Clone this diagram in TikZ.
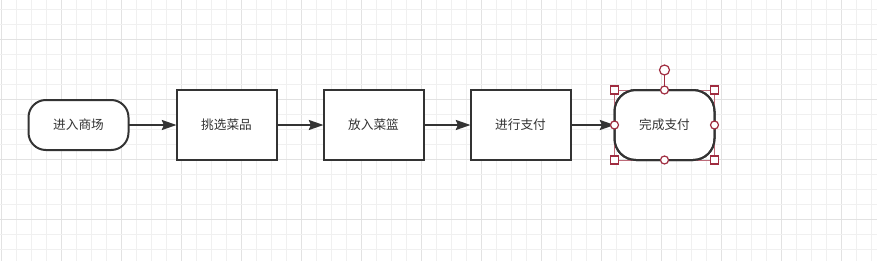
\documentclass[tikz,border=0pt]{standalone}
\usepackage{fontspec}
\setmainfont{Noto Sans CJK SC}
\usepackage{tikz}
\usetikzlibrary{arrows.meta,positioning}
\definecolor{flowInk}{HTML}{333333}
\definecolor{gridMinor}{HTML}{F0F0F0}
\definecolor{gridMajor}{HTML}{E2E2E2}
\definecolor{selRed}{HTML}{A02C40}
\tikzset{
  termnode/.style={draw=flowInk, fill=white, line width=1.5pt,
        rounded corners=13pt, minimum width=75pt, minimum height=37.5pt,
        outer sep=0pt, align=center,
        font=\fontsize{9.5pt}{11pt}\selectfont, text=flowInk},
  stepbox/.style={draw=flowInk, fill=white, line width=1.5pt,
        minimum width=75pt, minimum height=52.5pt, outer sep=0pt,
        align=center, font=\fontsize{9.5pt}{11pt}\selectfont, text=flowInk},
  flow/.style={-{Stealth[length=11pt, width=7.5pt, inset=1.5pt]},
        line width=1.5pt, draw=flowInk},
  gridminor/.style={draw=gridMinor, line width=0.75pt},
  gridmajor/.style={draw=gridMajor, line width=0.75pt},
  selframe/.style={draw=selRed!70, line width=0.6pt},
  selsquare/.style={draw=selRed, fill=white, line width=0.9pt,
        minimum size=6pt, inner sep=0pt, outer sep=0pt},
  selcircle/.style={draw=selRed, fill=white, line width=0.9pt, circle,
        minimum size=6pt, inner sep=0pt, outer sep=0pt}
}
\begin{document}
\begin{tikzpicture}[x=0.75pt, y=-0.75pt]
\useasboundingbox (0,0) rectangle (877,261);
% background grid
\foreach \i in {0,...,58} {
  \pgfmathtruncatemacro\maj{mod(\i,4)==0}
  \ifnum\maj=1 \draw[gridmajor] (1.7+15*\i,0) -- (1.7+15*\i,261);
  \else \draw[gridminor] (1.7+15*\i,0) -- (1.7+15*\i,261); \fi
}
\foreach \j in {0,...,17} {
  \pgfmathtruncatemacro\maj{mod(\j+2,4)==0}
  \ifnum\maj=1 \draw[gridmajor] (0,9.5+15*\j) -- (877,9.5+15*\j);
  \else \draw[gridminor] (0,9.5+15*\j) -- (877,9.5+15*\j); \fi
}

% flow
\node[termnode] (enter) at (78.5,125) {进入商场};
\node[stepbox, right=36pt of enter] (pick) {挑选菜品};
\node[stepbox, right=35.25pt of pick] (basket) {放入菜篮};
\node[stepbox, right=35.25pt of basket] (pay) {进行支付};
\node[termnode, minimum height=52.5pt, rounded corners=16pt,
      right=33pt of pay] (done) {完成支付};

\draw[flow] (enter) -- (pick);
\draw[flow] (pick) -- (basket);
\draw[flow] (basket) -- (pay);
\draw[flow] (pay) -- (done);

% selection handles
\draw[selframe] (done.north west) rectangle (done.south east);
\draw[draw=flowInk, line width=1.5pt, rounded corners=16pt]
  (done.north west) rectangle (done.south east);
\coordinate (rot) at ([yshift=15pt]done.north);
\draw[selRed, line width=0.9pt] (rot) -- (done.north);
\node[selcircle, minimum size=7.5pt] at (rot) {};
\foreach \a in {north west, north east, south west, south east}
  \node[selsquare] at (done.\a) {};
\foreach \a in {north, south, east, west}
  \node[selcircle] at (done.\a) {};
\end{tikzpicture}
\end{document}
